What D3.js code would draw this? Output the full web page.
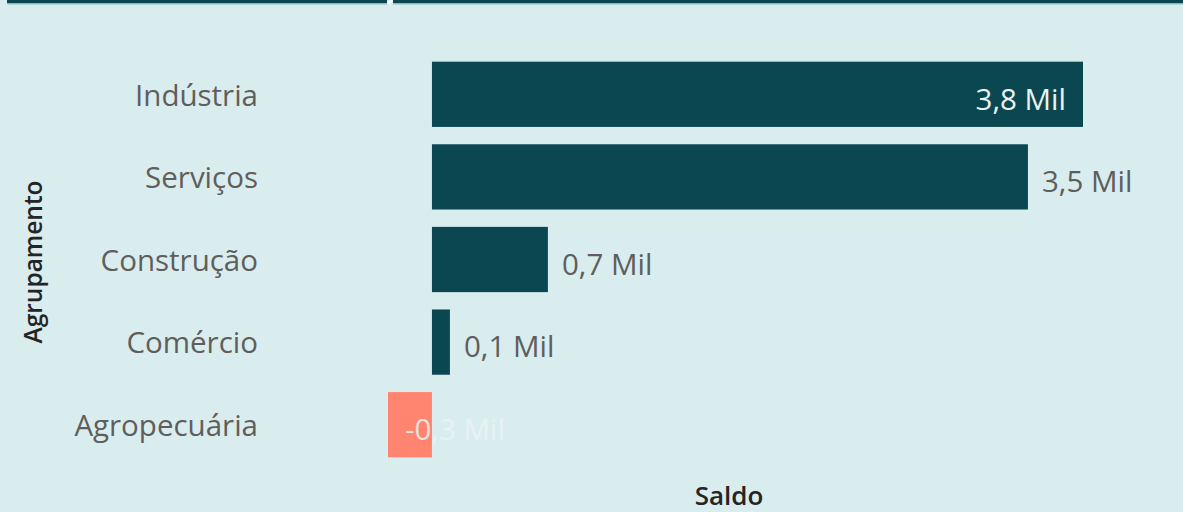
<!DOCTYPE html>
<html>
<head>
<meta charset="utf-8">
<script src="https://cdn.jsdelivr.net/npm/d3@7"></script>
<style>
  html, body { margin: 0; padding: 0; background: #D9EDEF; }
  svg { display: block; font-family: "Open Sans", "Noto Sans", sans-serif; }
</style>
</head>
<body>
<svg id="chart" width="1183" height="512"></svg>
<script>
// Saldo por agrupamento (em milhares)
const categories = ['Indústria', 'Serviços', 'Construção', 'Comércio', 'Agropecuária'];
const saldo      = [3.807, 3.485, 0.678, 0.105, -0.257];
const labels     = ['3,8 Mil', '3,5 Mil', '0,7 Mil', '0,1 Mil', '-0,3 Mil'];

const W = 1183, H = 512;
const svg = d3.select('#chart');

// header strip at the top (cut off)
svg.append('rect').attr('x', 7).attr('y', 0).attr('width', 380).attr('height', 3).attr('fill', '#0B4751');
svg.append('rect').attr('x', 393).attr('y', 0).attr('width', W - 393).attr('height', 3).attr('fill', '#0B4751');
svg.append('rect').attr('x', 7).attr('y', 3).attr('width', 380).attr('height', 1.5).attr('fill', '#8FB9BE');
svg.append('rect').attr('x', 393).attr('y', 3).attr('width', W - 393).attr('height', 1.5).attr('fill', '#8FB9BE');
svg.append('path').attr('d', 'M387,3 L390,0 L393,0 L389,5 Z').attr('fill', '#F4FAFA');

const x = d3.scaleLinear()
  .domain([d3.min(saldo), d3.max(saldo)])
  .range([388, 1083]);

const y = d3.scaleBand()
  .domain(categories)
  .range([53, 466])
  .paddingInner(0.21)
  .paddingOuter(0.105);

// category axis
const yAxis = svg.append('g')
  .attr('transform', 'translate(266,0)')
  .call(d3.axisLeft(y).tickSize(0).tickPadding(8));
yAxis.select('.domain').remove();
yAxis.selectAll('text')
  .attr('fill', '#605E5C')
  .style('font-size', '29.5px')
  .style('font-family', '"Open Sans", "Noto Sans", sans-serif')
  .attr('dy', '0.38em');

// bars
svg.append('g').selectAll('rect')
  .data(categories)
  .enter().append('rect')
  .attr('x', (d, i) => x(Math.min(0, saldo[i])))
  .attr('y', d => y(d))
  .attr('width', (d, i) => Math.abs(x(saldo[i]) - x(0)))
  .attr('height', y.bandwidth())
  .attr('fill', (d, i) => saldo[i] < 0 ? '#FF8570' : '#0B4751');

// data labels
svg.append('g').selectAll('text')
  .data(categories)
  .enter().append('text')
  .attr('x', (d, i) => {
    if (i === 0) return x(saldo[i]) - 17;
    if (saldo[i] < 0) return x(saldo[i]) + 17;
    return x(saldo[i]) + 14;
  })
  .attr('y', d => y(d) + y.bandwidth() / 2 + 5)
  .attr('dy', '0.35em')
  .attr('text-anchor', (d, i) => i === 0 ? 'end' : 'start')
  .attr('fill', (d, i) => (i === 0 || saldo[i] < 0) ? '#EAF3F3' : '#605E5C')
  .attr('fill-opacity', (d, i) => saldo[i] < 0 ? 0.85 : 1)
  .style('font-size', '29.5px')
  .text((d, i) => labels[i]);

// axis titles
svg.append('text')
  .attr('x', 729).attr('y', 505)
  .attr('text-anchor', 'middle')
  .attr('fill', '#252423')
  .style('font-size', '26px')
  .style('font-weight', '600')
  .text('Saldo');

svg.append('text')
  .attr('transform', 'translate(42,262) rotate(-90)')
  .attr('text-anchor', 'middle')
  .attr('fill', '#252423')
  .style('font-size', '24.5px')
  .style('font-weight', '600')
  .text('Agrupamento');
</script>
</body>
</html>
